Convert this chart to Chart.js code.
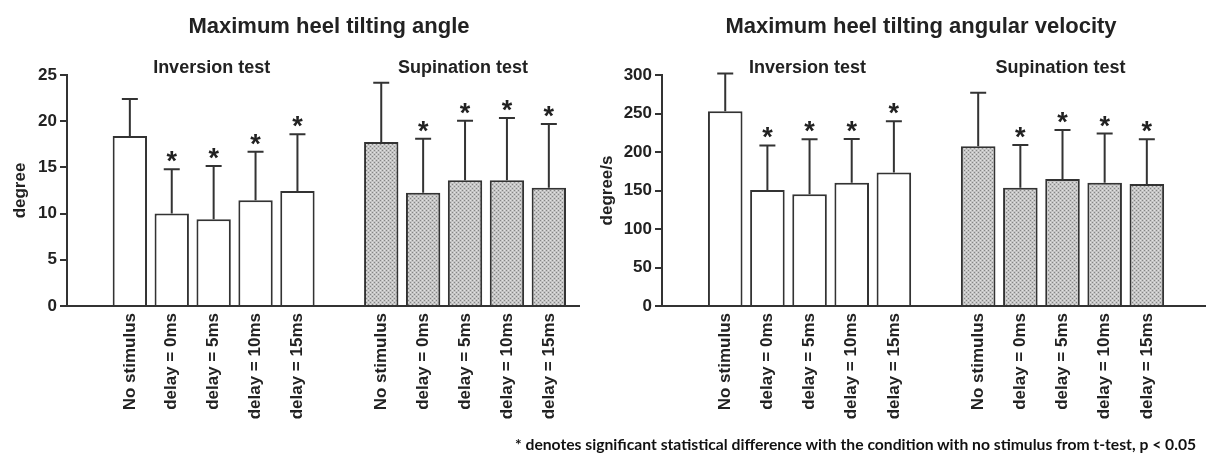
<!DOCTYPE html>
<html>
<head>
<meta charset="utf-8">
<title>Maximum heel tilting</title>
<script src="https://cdn.jsdelivr.net/npm/chart.js@4.4.0/dist/chart.umd.min.js"></script>
<style>
  body { margin: 0; width: 1206px; height: 454px; background: #fff; position: relative; overflow: hidden; }
  #c1 { position: absolute; left: 0; top: 0; }
  #c2 { position: absolute; left: 590px; top: 0; }
  #note { position: absolute; left: 515px; top: 435px; font: bold 15.7px Lato, "Open Sans", sans-serif; color: #111; white-space: nowrap; }
</style>
</head>
<body>
<canvas id="c1" width="590" height="454"></canvas>
<canvas id="c2" width="616" height="454"></canvas>
<div id="note">* denotes significant statistical difference with the condition with no stimulus from t-test, p &lt; 0.05</div>
<script>
// conditions, same for both tests
var conditions = ['No stimulus', 'delay = 0ms', 'delay = 5ms', 'delay = 10ms', 'delay = 15ms'];
var testNames = ['Inversion test', 'Supination test'];
var significant = [false, true, true, true, true];

// max heel tilting angle (degree), mean and SD
var angleInversion = [18.4, 10.0, 9.4, 11.45, 12.45];
var angleInversionSD = [4.0, 4.8, 5.75, 5.25, 6.15];
var angleSupination = [17.75, 12.25, 13.6, 13.6, 12.8];
var angleSupinationSD = [6.4, 5.85, 6.45, 6.75, 6.9];

// max heel tilting angular velocity (degree/s), mean and SD
var velInversion = [253, 150.5, 145, 160, 173.5];
var velInversionSD = [49, 58, 71.5, 57, 66.5];
var velSupination = [207.5, 153.5, 165, 160, 158.5];
var velSupinationSD = [69.5, 55.5, 63.5, 64, 58];

var FONT = '"Liberation Sans", Arial, sans-serif';
var INK = '#222';

// x position of each bar: two groups of 5 with one empty slot between
function pos(g, i) { return g * 6 + i + 1; }
var tickPositions = [];
[0, 1].forEach(function (g) { conditions.forEach(function (c, i) { tickPositions.push(pos(g, i)); }); });

function toPoints(g, vals) {
  return vals.map(function (v, i) { return { x: pos(g, i), y: v }; });
}

// dotted grey fill for the supination bars
function makeHatch() {
  var p = document.createElement('canvas');
  p.width = 4; p.height = 4;
  var c = p.getContext('2d');
  c.fillStyle = '#c4c4c4'; c.fillRect(0, 0, 4, 4);
  c.fillStyle = '#858585';
  c.fillRect(0, 0, 1, 1); c.fillRect(2, 2, 1, 1);
  c.fillStyle = '#e2e2e2';
  c.fillRect(2, 0, 1, 1); c.fillRect(0, 2, 1, 1);
  return c.createPattern(p, 'repeat');
}
var hatch = makeHatch();

// error bars, asterisks, titles
var decor = {
  id: 'decor',
  afterDatasetsDraw: function (chart, args, opts) {
    var ctx = chart.ctx, ys = chart.scales.y, xs = chart.scales.x;
    ctx.save();
    chart.data.datasets.forEach(function (ds, di) {
      var meta = chart.getDatasetMeta(di);
      meta.data.forEach(function (bar, i) {
        var top = ys.getPixelForValue(ds.data[i].y + ds.sd[i]);
        ctx.strokeStyle = '#333';
        ctx.lineWidth = 2;
        ctx.beginPath();
        ctx.moveTo(bar.x, bar.y);
        ctx.lineTo(bar.x, top);
        ctx.moveTo(bar.x - 8, top);
        ctx.lineTo(bar.x + 8, top);
        ctx.stroke();
        if (significant[i]) {
          ctx.fillStyle = INK;
          ctx.font = 'bold 27px ' + FONT;
          ctx.textAlign = 'center';
          ctx.textBaseline = 'alphabetic';
          ctx.fillText('*', bar.x, top + 1);
        }
      });
    });
    ctx.fillStyle = INK;
    ctx.textAlign = 'center';
    ctx.textBaseline = 'alphabetic';
    ctx.font = 'bold 22px ' + FONT;
    ctx.fillText(opts.title, opts.titleX, 33);
    ctx.font = 'bold 18px ' + FONT;
    testNames.forEach(function (t, g) {
      ctx.fillText(t, xs.getPixelForValue(pos(g, 2)) - 2, 73);
    });
    ctx.restore();
  }
};

function makeChart(id, cfg) {
  return new Chart(document.getElementById(id), {
    type: 'bar',
    data: {
      datasets: [
        { data: toPoints(0, cfg.inv), sd: cfg.invSD, backgroundColor: '#fff', borderColor: '#333', borderWidth: 2, grouped: false, barPercentage: 0.82, categoryPercentage: 1 },
        { data: toPoints(1, cfg.sup), sd: cfg.supSD, backgroundColor: hatch, borderColor: '#333', borderWidth: 2, grouped: false, barPercentage: 0.82, categoryPercentage: 1 }
      ]
    },
    options: {
      responsive: false,
      animation: false,
      layout: { padding: { top: 75, right: cfg.padRight, bottom: 0, left: 0 } },
      plugins: {
        legend: { display: false },
        tooltip: { enabled: false },
        decor: { title: cfg.title, titleX: cfg.titleX }
      },
      scales: {
        x: {
          type: 'linear',
          offset: false,
          min: -0.5,
          max: cfg.xMax,
          afterBuildTicks: function (scale) {
            scale.ticks = tickPositions.map(function (v) { return { value: v }; });
          },
          afterFit: function (scale) { scale.height = 148; },
          grid: { display: false },
          border: { display: true, color: '#333', width: 2 },
          ticks: {
            autoSkip: false,
            minRotation: 90,
            maxRotation: 90,
            padding: -1,
            color: INK,
            font: { family: FONT, size: 17, weight: 'bold' },
            callback: function (v) { return conditions[(v - 1) % 6]; }
          }
        },
        y: {
          min: 0,
          max: cfg.yMax,
          afterFit: function (scale) { scale.width = cfg.yWidth; },
          ticks: { stepSize: cfg.yStep, padding: 3, color: INK, font: { family: FONT, size: 17, weight: 'bold' } },
          grid: { drawOnChartArea: false, drawTicks: true, tickLength: 7, color: '#333', lineWidth: 2 },
          border: { display: true, color: '#333', width: 2 },
          title: {
            display: true,
            text: cfg.yTitle,
            color: INK,
            padding: { top: cfg.yTitlePad, bottom: 0 },
            font: { family: FONT, size: 17, weight: 'bold' }
          }
        }
      }
    },
    plugins: [decor]
  });
}

makeChart('c1', {
  title: 'Maximum heel tilting angle', titleX: 329,
  inv: angleInversion, invSD: angleInversionSD, sup: angleSupination, supSD: angleSupinationSD,
  yMax: 25, yStep: 5, yTitle: 'degree', yWidth: 67, yTitlePad: 10,
  xMax: 11.72, padRight: 11
});

makeChart('c2', {
  title: 'Maximum heel tilting angular velocity', titleX: 331,
  inv: velInversion, invSD: velInversionSD, sup: velSupination, supSD: velSupinationSD,
  yMax: 300, yStep: 50, yTitle: 'degree/s', yWidth: 72, yTitlePad: 7,
  xMax: 12.38, padRight: 1
});
</script>
</body>
</html>
